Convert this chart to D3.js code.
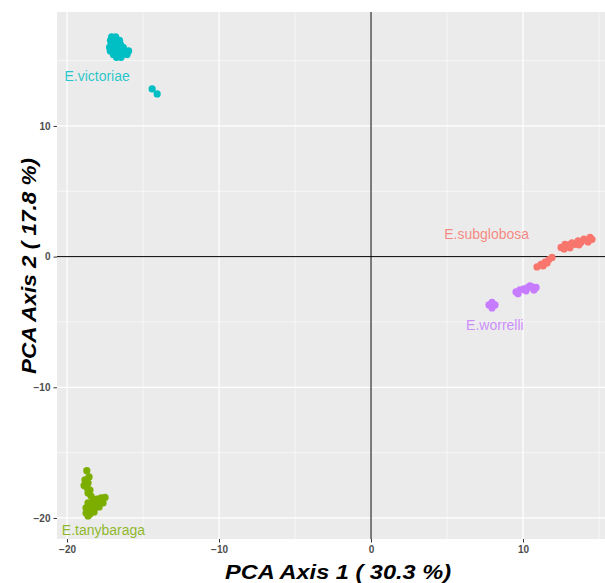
<!DOCTYPE html>
<html>
<head>
<meta charset="utf-8">
<script src="https://cdn.jsdelivr.net/npm/d3@7"></script>
<style>
  body { margin: 0; background: #fff; }
  svg { display: block; font-family: "Liberation Sans", Arial, sans-serif; }
</style>
</head>
<body>
<div id="scatter"></div>
<script>
// PCA scatter - species groups

// Species (ggplot default hue order)
var species = ["E.subglobosa", "E.tanybaraga", "E.victoriae", "E.worrelli"];
var speciesColors = ["#F8766D", "#7CAE00", "#00BFC4", "#C77CFF"];

// Scores on PCA axis 1 / axis 2, one pair of arrays per species
var subglobosaX = [12.5, 12.76, 12.7, 13.03, 13.22, 13.42, 13.62, 13.82, 14.01, 14.21, 14.41, 14.54, 13.09, 13.68, 14.28,
                   10.92, 11.18, 11.45, 11.71, 11.91, 11.32, 11.58];
var subglobosaY = [0.7, 0.93, 0.59, 0.9, 1.05, 0.93, 1.2, 1.09, 1.35, 1.24, 1.47, 1.32, 0.67, 0.9, 1.12,
                   -0.79, -0.6, -0.41, -0.22, -0.06, -0.71, -0.48];

var tanybaragaX = [-18.7, -18.55, -18.82, -18.62, -18.88, -18.68, -18.49, -18.62, -18.42, -18.29, -18.03, -17.76, -17.5,
                   -17.83, -17.63, -18.09, -18.62, -18.36, -18.75, -18.49, -18.16, -17.89, -18.75, -18.49, -18.22, -18.62];
var tanybaragaY = [-16.38, -16.86, -17.09, -17.32, -17.51, -17.7, -17.86, -18.09, -18.32, -18.55, -18.55, -18.47, -18.43,
                   -18.78, -18.85, -18.85, -18.85, -19.01, -19.23, -19.31, -19.23, -19.16, -19.62, -19.69, -19.54, -19.85];

var victoriaeX = [-17.07, -16.8,
                  -17.14, -16.84, -16.55,
                  -17.1, -16.8, -16.5,
                  -17.2, -16.9, -16.6, -16.3,
                  -17.15, -16.85, -16.55, -16.25, -15.95,
                  -16.95, -16.65, -16.35, -16.05,
                  -16.75, -16.45,
                  -14.4, -14.07];
var victoriaeY = [16.81, 16.81,
                  16.55, 16.55, 16.55,
                  16.28, 16.28, 16.28,
                  16.01, 16.01, 16.01, 16.01,
                  15.74, 15.74, 15.74, 15.74, 15.74,
                  15.47, 15.47, 15.47, 15.47,
                  15.25, 15.25,
                  12.83, 12.45];

var worrelliX = [7.76, 7.96, 8.16, 7.96,
                 9.54, 9.8, 10.07, 10.33, 10.59, 10.86, 9.67, 10.2, 10.72, 10.46];
var worrelliY = [-3.7, -3.5, -3.7, -3.93,
                 -2.7, -2.55, -2.47, -2.36, -2.32, -2.36, -2.85, -2.62, -2.55, -2.24];

// Species label positions (data units)
var labelX = [7.61, -17.6, -18.02, 8.15];
var labelY = [1.76, -20.96, 13.83, -5.23];

// Tick values
var xTicks = [-20, -10, 0, 10];
var yTicks = [-20, -10, 0, 10];
var xMinor = [-15, -5, 5, 15];
var yMinor = [-15, -5, 5, 15];

// SVG parameter setup
var svgWidth = 605;
var svgHeight = 583;

// Panel edges (panel runs off the right edge like the original crop)
var panel = { left: 57, right: 620, top: 12, bottom: 539 };

var svg = d3.select("#scatter").append("svg")
    .attr("width", svgWidth)
    .attr("height", svgHeight);

// Scales
var xScale = d3.scaleLinear().domain([-20.66, 16.38]).range([panel.left, panel.right]);
var yScale = d3.scaleLinear().domain([-21.61, 18.72]).range([panel.bottom, panel.top]);

// Panel background
svg.append("rect")
    .attr("x", panel.left)
    .attr("y", panel.top)
    .attr("width", panel.right - panel.left)
    .attr("height", panel.bottom - panel.top)
    .attr("fill", "#EBEBEB");

// Grid lines: minor then major
var grid = svg.append("g");
grid.selectAll(".xminor").data(xMinor).enter().append("line")
    .attr("x1", d => xScale(d)).attr("x2", d => xScale(d))
    .attr("y1", panel.top).attr("y2", panel.bottom)
    .attr("stroke", "#fff").attr("stroke-width", 0.6);
grid.selectAll(".yminor").data(yMinor).enter().append("line")
    .attr("y1", d => yScale(d)).attr("y2", d => yScale(d))
    .attr("x1", panel.left).attr("x2", panel.right)
    .attr("stroke", "#fff").attr("stroke-width", 0.6);
grid.selectAll(".xmajor").data(xTicks).enter().append("line")
    .attr("x1", d => xScale(d)).attr("x2", d => xScale(d))
    .attr("y1", panel.top).attr("y2", panel.bottom)
    .attr("stroke", "#fff").attr("stroke-width", 1.2);
grid.selectAll(".ymajor").data(yTicks).enter().append("line")
    .attr("y1", d => yScale(d)).attr("y2", d => yScale(d))
    .attr("x1", panel.left).attr("x2", panel.right)
    .attr("stroke", "#fff").attr("stroke-width", 1.2);

// Zero lines
svg.append("line")
    .attr("x1", xScale(0)).attr("x2", xScale(0))
    .attr("y1", panel.top).attr("y2", panel.bottom)
    .attr("stroke", "#000").attr("stroke-width", 1);
svg.append("line")
    .attr("y1", yScale(0)).attr("y2", yScale(0))
    .attr("x1", panel.left).attr("x2", panel.right)
    .attr("stroke", "#000").attr("stroke-width", 1);

// Build point table from the arrays
var seriesX = [subglobosaX, tanybaragaX, victoriaeX, worrelliX];
var seriesY = [subglobosaY, tanybaragaY, victoriaeY, worrelliY];
var points = [];
species.forEach(function(s, i) {
    seriesX[i].forEach(function(v, j) {
        points.push({ species: i, x: v, y: seriesY[i][j] });
    });
});

// Points
svg.append("g").selectAll("circle")
    .data(points)
    .enter()
    .append("circle")
    .attr("cx", d => xScale(d.x))
    .attr("cy", d => yScale(d.y))
    .attr("r", 3.6)
    .attr("fill", d => speciesColors[d.species]);

// Species labels
svg.append("g").selectAll("text")
    .data(species)
    .enter()
    .append("text")
    .attr("x", (d, i) => xScale(labelX[i]))
    .attr("y", (d, i) => yScale(labelY[i]))
    .attr("dy", "0.35em")
    .attr("text-anchor", "middle")
    .attr("font-size", "14px")
    .attr("fill", (d, i) => speciesColors[i])
    .attr("fill-opacity", 0.85)
    .text(d => d);

// Axes
var bottomAxis = d3.axisBottom(xScale).tickValues(xTicks).tickSize(3.5).tickPadding(3);
var leftAxis = d3.axisLeft(yScale).tickValues(yTicks).tickSize(3.5).tickPadding(3);

var xAxis = svg.append("g")
    .attr("transform", `translate(0, ${panel.bottom})`)
    .call(bottomAxis);
var yAxis = svg.append("g")
    .attr("transform", `translate(${panel.left}, 0)`)
    .call(leftAxis);

[xAxis, yAxis].forEach(function(ax) {
    ax.select(".domain").remove();
    ax.selectAll(".tick line").attr("stroke", "#333");
    ax.selectAll(".tick text")
        .attr("fill", "#4D4D4D")
        .attr("font-size", "10px")
        .attr("font-weight", "bold")
        .attr("font-family", "Liberation Sans, Arial, sans-serif");
});

// Axis titles (stretched a little, as in the original export)
svg.append("text")
    .attr("x", 338)
    .attr("y", 579)
    .attr("text-anchor", "middle")
    .attr("font-size", "20px")
    .attr("font-weight", "bold")
    .attr("font-style", "italic")
    .attr("fill", "#000")
    .attr("textLength", 226)
    .attr("lengthAdjust", "spacingAndGlyphs")
    .text("PCA Axis 1 ( 30.3 %)");

svg.append("text")
    .attr("transform", "translate(36, 266) rotate(-90)")
    .attr("text-anchor", "middle")
    .attr("font-size", "21px")
    .attr("font-weight", "bold")
    .attr("font-style", "italic")
    .attr("fill", "#000")
    .attr("textLength", 216)
    .attr("lengthAdjust", "spacingAndGlyphs")
    .text("PCA Axis 2 ( 17.8 %)");
</script>
</body>
</html>
